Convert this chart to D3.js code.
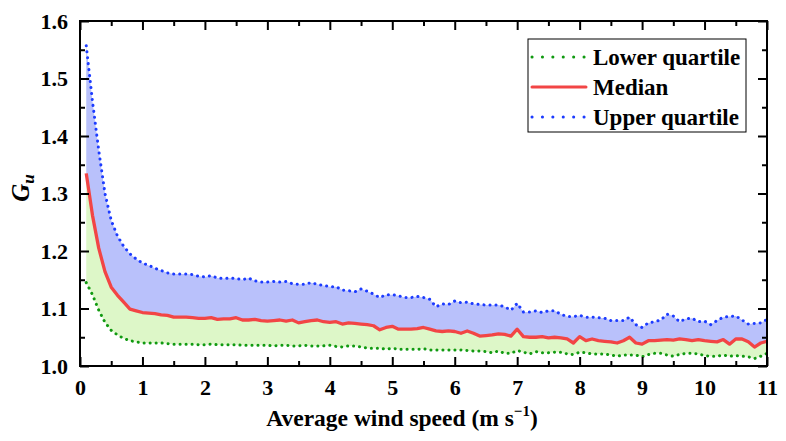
<!DOCTYPE html>
<html>
<head>
<meta charset="utf-8">
<script src="https://cdn.jsdelivr.net/npm/d3@7"></script>
<style>
  body { margin: 0; background: #fff; }
</style>
</head>
<body>
<div id="chart"></div>
<script>
// wind speed bins (m/s)
var speed = [0.1,0.2,0.3,0.4,0.5,0.6,0.7,0.8,0.9,1.0,
  1.1,1.2,1.3,1.4,1.5,1.6,1.7,1.8,1.9,2.0,
  2.1,2.2,2.3,2.4,2.5,2.6,2.7,2.8,2.9,3.0,
  3.1,3.2,3.3,3.4,3.5,3.6,3.7,3.8,3.9,4.0,
  4.1,4.2,4.3,4.4,4.5,4.6,4.7,4.8,4.9,5.0,
  5.1,5.2,5.3,5.4,5.5,5.6,5.7,5.8,5.9,6.0,
  6.1,6.2,6.3,6.4,6.5,6.6,6.7,6.8,6.9,7.0,
  7.1,7.2,7.3,7.4,7.5,7.6,7.7,7.8,7.9,8.0,
  8.1,8.2,8.3,8.4,8.5,8.6,8.7,8.8,8.9,9.0,
  9.1,9.2,9.3,9.4,9.5,9.6,9.7,9.8,9.9,10.0,
  10.1,10.2,10.3,10.4,10.5,10.6,10.7,10.8,10.9,11.0];

var upperQ = [1.557,1.460,1.375,1.300,1.253,1.226,1.208,1.195,1.186,1.179,
  1.175,1.170,1.166,1.162,1.160,1.160,1.160,1.159,1.156,1.155,
  1.157,1.153,1.152,1.153,1.152,1.150,1.153,1.148,1.146,1.146,
  1.147,1.146,1.147,1.143,1.142,1.142,1.145,1.142,1.140,1.138,
  1.138,1.132,1.131,1.129,1.134,1.130,1.125,1.119,1.124,1.124,
  1.122,1.119,1.119,1.121,1.119,1.116,1.103,1.108,1.107,1.113,
  1.110,1.111,1.108,1.107,1.106,1.106,1.106,1.103,1.097,1.109,
  1.094,1.094,1.096,1.093,1.096,1.096,1.090,1.086,1.086,1.088,
  1.085,1.085,1.084,1.083,1.079,1.079,1.079,1.085,1.072,1.067,
  1.075,1.077,1.080,1.090,1.087,1.077,1.082,1.083,1.077,1.078,
  1.072,1.079,1.085,1.086,1.087,1.080,1.073,1.074,1.075,1.081];

var median = [1.335,1.262,1.205,1.164,1.137,1.123,1.111,1.099,1.096,1.093,
  1.092,1.091,1.089,1.088,1.085,1.085,1.085,1.084,1.083,1.083,
  1.084,1.081,1.082,1.082,1.084,1.080,1.080,1.081,1.079,1.078,
  1.079,1.080,1.078,1.080,1.075,1.077,1.079,1.080,1.077,1.076,
  1.077,1.073,1.075,1.074,1.073,1.072,1.070,1.063,1.067,1.069,
  1.064,1.064,1.064,1.065,1.067,1.064,1.061,1.060,1.061,1.060,
  1.057,1.061,1.057,1.052,1.053,1.054,1.056,1.055,1.052,1.064,
  1.051,1.050,1.050,1.051,1.049,1.050,1.049,1.047,1.040,1.051,
  1.044,1.047,1.044,1.043,1.042,1.040,1.044,1.050,1.040,1.038,
  1.044,1.044,1.045,1.046,1.045,1.047,1.046,1.044,1.046,1.044,
  1.043,1.042,1.046,1.038,1.047,1.047,1.042,1.033,1.040,1.043];

var lowerQ = [1.145,1.124,1.097,1.076,1.062,1.054,1.048,1.044,1.042,1.040,
  1.040,1.040,1.040,1.039,1.038,1.038,1.038,1.038,1.037,1.037,
  1.038,1.037,1.037,1.037,1.037,1.036,1.036,1.036,1.036,1.036,
  1.035,1.036,1.036,1.035,1.035,1.036,1.035,1.035,1.035,1.036,
  1.034,1.033,1.035,1.035,1.033,1.031,1.031,1.031,1.029,1.031,
  1.029,1.029,1.029,1.029,1.030,1.028,1.028,1.028,1.028,1.028,
  1.028,1.027,1.026,1.026,1.025,1.023,1.026,1.022,1.022,1.027,
  1.024,1.021,1.025,1.023,1.023,1.024,1.024,1.021,1.020,1.024,
  1.023,1.021,1.021,1.021,1.019,1.017,1.019,1.019,1.019,1.016,
  1.020,1.022,1.022,1.019,1.017,1.020,1.022,1.022,1.021,1.018,
  1.017,1.017,1.019,1.017,1.018,1.017,1.016,1.013,1.017,1.022];

var xTicks = [0,1,2,3,4,5,6,7,8,9,10,11];
var xMinor = [0.5,1.5,2.5,3.5,4.5,5.5,6.5,7.5,8.5,9.5,10.5];
var yTicks = [1.0,1.1,1.2,1.3,1.4,1.5,1.6];
var yMinor = [1.05,1.15,1.25,1.35,1.45,1.55];
var legendNames = ["Lower quartile", "Median", "Upper quartile"];

var FONT = "'Liberation Serif', Tinos, 'Times New Roman', 'DejaVu Serif', serif";

var W = 786, H = 441;
var margin = {top: 21, right: 19, bottom: 75, left: 80};
var width = W - margin.left - margin.right;
var height = H - margin.top - margin.bottom;

var svg = d3.select("#chart").append("svg")
  .attr("width", W).attr("height", H)
  .attr("font-family", FONT).attr("font-weight", "bold");

var g = svg.append("g")
  .attr("transform", "translate(" + margin.left + "," + margin.top + ")");

var x = d3.scaleLinear().domain([0, 11]).range([0, width]);
var y = d3.scaleLinear().domain([1.0, 1.6]).range([height, 0]);

var rows = speed.map(function(s, i) {
  return {s: s, lo: lowerQ[i], md: median[i], up: upperQ[i]};
});

g.append("clipPath").attr("id", "clip")
  .append("rect").attr("width", width).attr("height", height);

var plot = g.append("g").attr("clip-path", "url(#clip)");

// bands
plot.append("path").datum(rows)
  .attr("fill", "#b9c1fb")
  .attr("d", d3.area().x(function(d) { return x(d.s); })
    .y0(function(d) { return y(d.md); }).y1(function(d) { return y(d.up); }));
plot.append("path").datum(rows)
  .attr("fill", "#ddf7c8")
  .attr("d", d3.area().x(function(d) { return x(d.s); })
    .y0(function(d) { return y(d.lo); }).y1(function(d) { return y(d.md); }));

var colors = {lo: "#119a11", md: "#f24545", up: "#1d3cff"};

function line(key) {
  return d3.line().x(function(d) { return x(d.s); }).y(function(d) { return y(d[key]); });
}

plot.append("path").datum(rows)
  .attr("fill", "none").attr("stroke", colors.lo).attr("stroke-width", 3)
  .attr("stroke-linecap", "round").attr("stroke-dasharray", "0.1,5.9")
  .attr("d", line("lo"));
plot.append("path").datum(rows)
  .attr("fill", "none").attr("stroke", colors.up).attr("stroke-width", 3)
  .attr("stroke-linecap", "round").attr("stroke-dasharray", "0.1,5.9")
  .attr("d", line("up"));
plot.append("path").datum(rows)
  .attr("fill", "none").attr("stroke", colors.md).attr("stroke-width", 3.3)
  .attr("stroke-linejoin", "round")
  .attr("d", line("md"));

// axes, ticks inward on all four sides
function styleAxis(sel) {
  sel.attr("font-family", FONT).attr("font-size", 22);
  sel.select(".domain").remove();
  sel.selectAll(".tick line").attr("stroke", "#000").attr("stroke-width", 2);
  sel.selectAll("text").attr("fill", "#000").attr("font-weight", "bold");
}

g.append("g").attr("transform", "translate(0," + height + ")")
  .call(d3.axisBottom(x).tickValues(xTicks).tickSize(-9).tickPadding(13).tickFormat(d3.format("d")))
  .call(styleAxis);
g.append("g").attr("transform", "translate(0," + height + ")")
  .call(d3.axisBottom(x).tickValues(xMinor).tickSize(-5).tickFormat(""))
  .call(styleAxis);
g.append("g")
  .call(d3.axisTop(x).tickValues(xTicks).tickSize(-9).tickFormat(""))
  .call(styleAxis);
g.append("g")
  .call(d3.axisTop(x).tickValues(xMinor).tickSize(-5).tickFormat(""))
  .call(styleAxis);

g.append("g")
  .call(d3.axisLeft(y).tickValues(yTicks).tickSize(-9).tickPadding(12).tickFormat(d3.format(".1f")))
  .call(styleAxis);
g.append("g")
  .call(d3.axisLeft(y).tickValues(yMinor).tickSize(-5).tickFormat(""))
  .call(styleAxis);
g.append("g").attr("transform", "translate(" + width + ",0)")
  .call(d3.axisRight(y).tickValues(yTicks).tickSize(-9).tickFormat(""))
  .call(styleAxis);
g.append("g").attr("transform", "translate(" + width + ",0)")
  .call(d3.axisRight(y).tickValues(yMinor).tickSize(-5).tickFormat(""))
  .call(styleAxis);

g.append("rect")
  .attr("width", width).attr("height", height)
  .attr("fill", "none").attr("stroke", "#000").attr("stroke-width", 2);

// axis titles
var xt = svg.append("text")
  .attr("x", 402).attr("y", 426)
  .attr("text-anchor", "middle")
  .attr("font-size", 23.5);
xt.append("tspan").text("Average wind speed (m s");
xt.append("tspan").attr("dy", -10).attr("font-size", 15).text("\u22121");
xt.append("tspan").attr("dy", 10).text(")");

var yt = svg.append("text")
  .attr("transform", "translate(29,188) rotate(-90)")
  .attr("text-anchor", "middle")
  .attr("font-size", 25).attr("font-style", "italic");
yt.append("tspan").text("G");
yt.append("tspan").attr("dy", 5).attr("font-size", 17).text("u");

// legend
var leg = svg.append("g");
leg.append("rect")
  .attr("x", 528).attr("y", 39).attr("width", 218).attr("height", 93)
  .attr("fill", "#fff").attr("stroke", "#000").attr("stroke-width", 1);

var legKeys = ["lo", "md", "up"];
legKeys.forEach(function(k, i) {
  var ly = 57 + i * 30;
  var ln = leg.append("line")
    .attr("x1", 532).attr("x2", 586).attr("y1", ly).attr("y2", ly)
    .attr("stroke", colors[k]).attr("stroke-width", 3)
    .attr("stroke-linecap", "round");
  if (k !== "md") ln.attr("stroke-dasharray", "0.1,10.3");
  leg.append("text")
    .attr("x", 593).attr("y", ly + 8)
    .attr("font-size", 23)
    .text(legendNames[i]);
});
</script>
</body>
</html>
